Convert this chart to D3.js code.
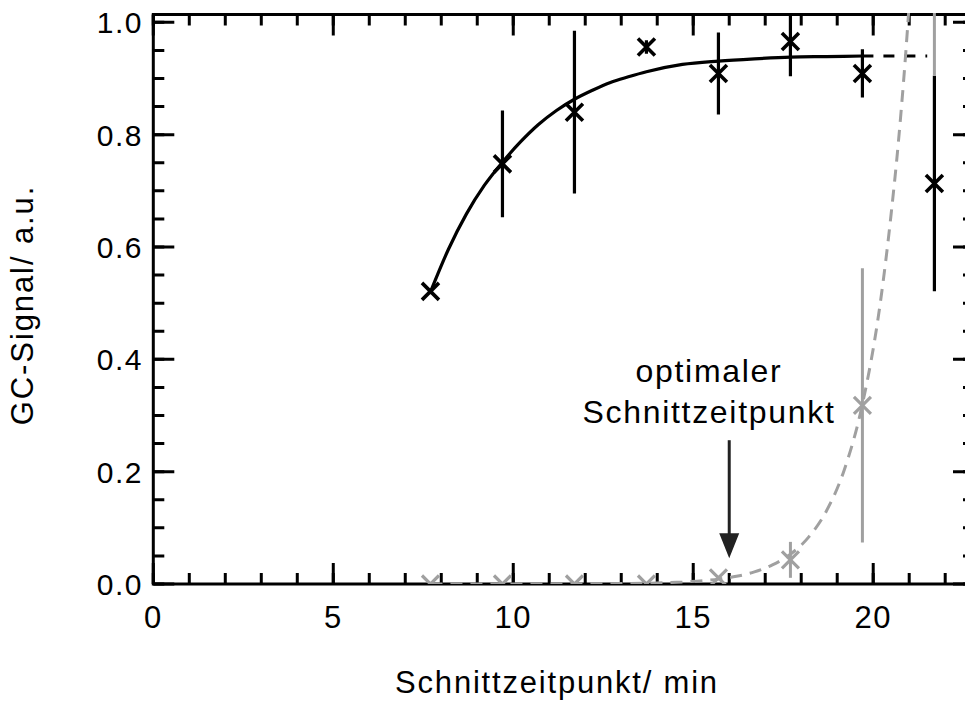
<!DOCTYPE html>
<html>
<head>
<meta charset="utf-8">
<script src="https://cdn.jsdelivr.net/npm/d3@7"></script>
<style>
	body { margin: 0; background: #fff; }
	text { font-family: "Liberation Sans", Arial, Helvetica, sans-serif; fill: #000; }
</style>
</head>
<body>
<svg id="chart" width="965" height="704"></svg>
<script>
// measured points (black = product, grey = second component)
var times = [7.7, 9.7, 11.7, 13.7, 15.7, 17.7, 19.7, 21.7];
var signalBlack = [0.521, 0.748, 0.840, 0.956, 0.909, 0.966, 0.909, 0.713];
var errBlack = [0, 0.095, 0.145, 0.012, 0.073, 0.062, 0.043, 0.192];
var signalGrey = [0.0, 0.0, 0.0, 0.0, 0.011, 0.043, 0.318];
var errGrey = [0, 0, 0, 0, 0, 0.032, 0.244];
// grey error bar of the point that lies above the plot (x = 21.7)
var greyOffTop = {x: 21.7, low: 0.905, high: 1.3};

// fitted curves
var fitBlackX = [7.7, 8.2, 8.7, 9.2, 9.7, 10.2, 10.7, 11.2, 11.7, 12.2, 12.7, 13.2, 13.7, 14.7, 15.7, 16.7, 17.7, 18.7, 19.7];
var fitBlackY = [0.52, 0.596, 0.659, 0.710, 0.751, 0.787, 0.818, 0.843, 0.863, 0.879, 0.893, 0.903, 0.912, 0.925, 0.931, 0.935, 0.938, 0.939, 0.94];
var extBlackX = [19.7, 21.5];
var extBlackY = [0.94, 0.94];
var fitGreyX = [7.7, 9.7, 11.7, 13.7, 14.7, 15.7, 16.2, 16.7, 17.2, 17.7, 18.2, 18.7, 19.2, 19.7, 20.2, 20.5, 20.7, 20.9, 21.1];
var fitGreyY = [0.0, 0.0, 0.0002, 0.0014, 0.0036, 0.0087, 0.0137, 0.0215, 0.034, 0.053, 0.083, 0.130, 0.204, 0.32, 0.502, 0.660, 0.787, 0.942, 1.13];

var xTicks = [0, 5, 10, 15, 20];
var xMinor = [0, 1, 2, 3, 4, 5, 6, 7, 8, 9, 10, 11, 12, 13, 14, 15, 16, 17, 18, 19, 20, 21, 22];
var yTicks = [0.0, 0.2, 0.4, 0.6, 0.8, 1.0];
var yMinor = [0, 0.05, 0.1, 0.15, 0.2, 0.25, 0.3, 0.35, 0.4, 0.45, 0.5, 0.55, 0.6, 0.65, 0.7, 0.75, 0.8, 0.85, 0.9, 0.95, 1.0];
var arrowX = 16.0, arrowFrom = 0.256, arrowTo = 0.046;

var svg = d3.select("#chart");
var boxL = 153.3, boxR = 974, boxT = 14.5, boxB = 584;
var grey = "#a0a0a0";

var x = d3.scaleLinear().domain([0, 22.8]).range([boxL, boxR]);
var y = d3.scaleLinear().domain([0, 1.0139]).range([boxB, boxT]);

// inward ticks on all four sides, minor and major, as one path each
function tickPath(values, len, horizontal, base, dir){
	var d = values.map(function(v){
		if(horizontal){
			return "M" + x(v) + "," + base + "V" + (base + dir * len);
		}
		return "M" + base + "," + y(v) + "H" + (base + dir * len);
	}).join("");
	svg.append("path").attr("d", d)
		.attr("fill", "none").attr("stroke", "#000").attr("stroke-width", 3);
}
tickPath(xMinor, 11, true, boxB, -1);
tickPath(xTicks, 21, true, boxB, -1);
tickPath(xMinor, 11, true, boxT, 1);
tickPath(xTicks, 21, true, boxT, 1);
tickPath(yMinor, 11, false, boxL, 1);
tickPath(yTicks, 21, false, boxL, 1);
tickPath(yMinor, 11, false, boxR, -1);
tickPath(yTicks, 21, false, boxR, -1);

// frame
svg.append("rect")
	.attr("x", boxL).attr("y", boxT)
	.attr("width", boxR - boxL).attr("height", boxB - boxT)
	.attr("fill", "none").attr("stroke", "#000").attr("stroke-width", 3);

// tick labels
svg.selectAll(".xlab").data(xTicks).enter().append("text")
	.attr("class", "xlab")
	.attr("x", function(d){ return x(d); })
	.attr("y", 628)
	.attr("text-anchor", "middle")
	.attr("font-size", 31).attr("letter-spacing", 1.5)
	.text(function(d){ return d; });

svg.selectAll(".ylab").data(yTicks).enter().append("text")
	.attr("class", "ylab")
	.attr("x", 143)
	.attr("y", function(d){ return y(d) + 11; })
	.attr("text-anchor", "end")
	.attr("font-size", 30).attr("letter-spacing", 1.5)
	.text(function(d){ return d.toFixed(1); });

// axis titles
svg.append("text")
	.attr("x", 557).attr("y", 693)
	.attr("text-anchor", "middle")
	.attr("font-size", 31).attr("letter-spacing", 1.8)
	.text("Schnittzeitpunkt/ min");

svg.append("text")
	.attr("transform", "translate(33,305) rotate(-90)")
	.attr("text-anchor", "middle")
	.attr("font-size", 31).attr("letter-spacing", 1.9)
	.text("GC-Signal/ a.u.");

// data layer, clipped to the plot box
svg.append("defs").append("clipPath").attr("id", "plotclip")
	.append("rect").attr("x", boxL).attr("y", boxT - 1.5)
	.attr("width", boxR - boxL).attr("height", boxB - boxT + 1.5);

var plot = svg.append("g").attr("clip-path", "url(#plotclip)");

var line = d3.line()
	.x(function(d){ return x(d[0]); })
	.y(function(d){ return y(d[1]); })
	.curve(d3.curveMonotoneX);

function cross(g, px, py, r, color, w){
	g.append("path")
		.attr("d", "M" + (px - r) + "," + (py - r) + "L" + (px + r) + "," + (py + r) +
			"M" + (px - r) + "," + (py + r) + "L" + (px + r) + "," + (py - r))
		.attr("stroke", color).attr("stroke-width", w).attr("fill", "none");
}

// black series
plot.append("path")
	.datum(d3.zip(fitBlackX, fitBlackY))
	.attr("d", line)
	.attr("fill", "none").attr("stroke", "#000").attr("stroke-width", 3.2);
plot.append("path")
	.datum(d3.zip(extBlackX, extBlackY))
	.attr("d", line)
	.attr("fill", "none").attr("stroke", "#000").attr("stroke-width", 3.2)
	.attr("stroke-dasharray", "11,10");

times.forEach(function(t, i){
	var e = errBlack[i];
	if(e > 0){
		plot.append("line")
			.attr("x1", x(t)).attr("x2", x(t))
			.attr("y1", y(signalBlack[i] - e)).attr("y2", y(signalBlack[i] + e))
			.attr("stroke", "#000").attr("stroke-width", 3.2);
	}
	cross(plot, x(t), y(signalBlack[i]), 8.5, "#000", 3.6);
});

// grey series
plot.append("path")
	.datum(d3.zip(fitGreyX, fitGreyY))
	.attr("d", line)
	.attr("fill", "none").attr("stroke", grey).attr("stroke-width", 3)
	.attr("stroke-dasharray", "12,8");

signalGrey.forEach(function(v, i){
	var t = times[i];
	var e = errGrey[i];
	if(e > 0){
		plot.append("line")
			.attr("x1", x(t)).attr("x2", x(t))
			.attr("y1", y(v - e)).attr("y2", y(v + e))
			.attr("stroke", grey).attr("stroke-width", 3);
	}
	cross(plot, x(t), y(v), 8.5, grey, 3.2);
});
plot.append("line")
	.attr("x1", x(greyOffTop.x)).attr("x2", x(greyOffTop.x))
	.attr("y1", y(greyOffTop.low)).attr("y2", y(greyOffTop.high))
	.attr("stroke", grey).attr("stroke-width", 3);

// annotation
svg.append("text")
	.attr("x", 709).attr("y", 382)
	.attr("text-anchor", "middle")
	.attr("font-size", 32).attr("letter-spacing", 1.7)
	.text("optimaler");
svg.append("text")
	.attr("x", 709).attr("y", 423)
	.attr("text-anchor", "middle")
	.attr("font-size", 32).attr("letter-spacing", 1.7)
	.text("Schnittzeitpunkt");

var ax = x(arrowX), ay0 = y(arrowFrom), ay1 = y(arrowTo);
svg.append("line")
	.attr("x1", ax).attr("x2", ax).attr("y1", ay0).attr("y2", ay1 - 20)
	.attr("stroke", "#222").attr("stroke-width", 3);
svg.append("path")
	.attr("d", "M" + (ax - 10) + "," + (ay1 - 25) + "L" + (ax + 10) + "," + (ay1 - 25) + "L" + ax + "," + ay1 + "Z")
	.attr("fill", "#222");
</script>
</body>
</html>
